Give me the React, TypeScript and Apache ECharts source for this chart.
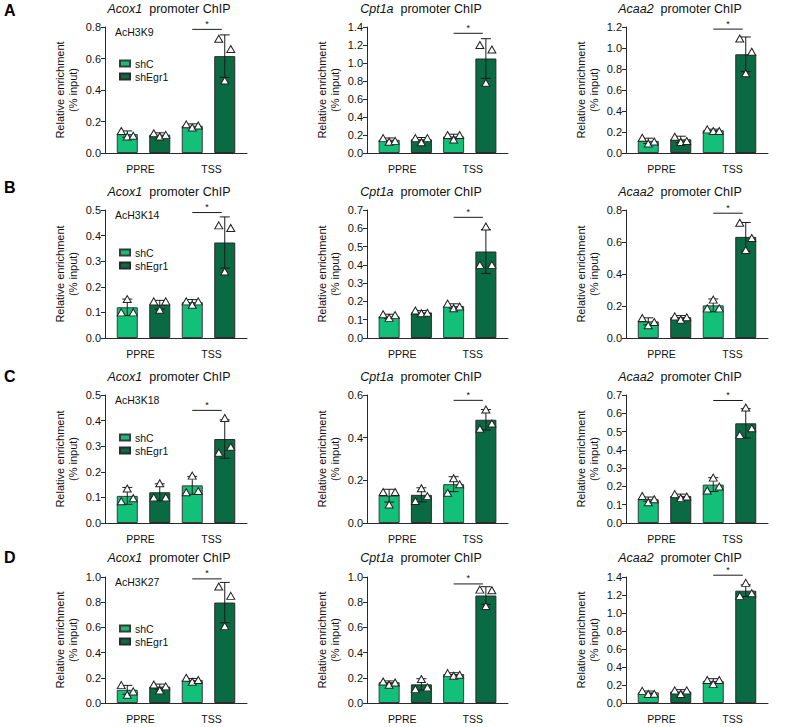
import React, { useEffect, useRef } from "react";
import * as echarts from "echarts";

// ---------- data ----------
const panelLetters = ["A", "B", "C", "D"];
const marks = ["AcH3K9", "AcH3K14", "AcH3K18", "AcH3K27"];
const genes = ["Acox1", "Cpt1a", "Acaa2"];
const sites = ["PPRE", "TSS"];
const groups = ["shC", "shEgr1"];
const barSlots = ["PPRE-shC", "PPRE-shEgr1", "TSS-shC", "TSS-shEgr1"];

// panels are ordered row by row: A(Acox1,Cpt1a,Acaa2), B(...), C(...), D(...)
const yMax = [0.8, 1.4, 1.2, 0.5, 0.7, 0.8, 0.5, 0.6, 0.7, 1.0, 1.0, 1.4];
const yStep = [0.2, 0.2, 0.2, 0.1, 0.1, 0.2, 0.1, 0.2, 0.1, 0.2, 0.2, 0.2];

// bar means: PPRE shC, PPRE shEgr1, TSS shC, TSS shEgr1
const means = [
  [0.12, 0.116, 0.173, 0.615],
  [0.147, 0.152, 0.184, 1.05],
  [0.116, 0.13, 0.217, 0.94],
  [0.12, 0.13, 0.14, 0.373],
  [0.118, 0.14, 0.175, 0.473],
  [0.104, 0.13, 0.204, 0.632],
  [0.106, 0.12, 0.147, 0.328],
  [0.128, 0.132, 0.182, 0.484],
  [0.13, 0.148, 0.21, 0.545],
  [0.105, 0.13, 0.183, 0.797],
  [0.165, 0.148, 0.23, 0.853],
  [0.118, 0.128, 0.245, 1.248],
];

// standard deviations
const sds = [
  [0.02, 0.012, 0.012, 0.135],
  [0.02, 0.02, 0.025, 0.22],
  [0.025, 0.03, 0.01, 0.165],
  [0.032, 0.017, 0.01, 0.1],
  [0.012, 0.01, 0.012, 0.12],
  [0.022, 0.01, 0.04, 0.09],
  [0.033, 0.033, 0.035, 0.075],
  [0.03, 0.033, 0.035, 0.048],
  [0.012, 0.01, 0.038, 0.08],
  [0.035, 0.02, 0.012, 0.16],
  [0.01, 0.045, 0.01, 0.07],
  [0.015, 0.02, 0.025, 0.065],
];

// individual replicates (left, centre, right) for each bar
const points = [
  [[0.14, 0.105, 0.11], [0.125, 0.105, 0.115], [0.182, 0.162, 0.175], [0.725, 0.46, 0.66]],
  [[0.165, 0.125, 0.135], [0.165, 0.12, 0.165], [0.2, 0.15, 0.2], [1.2, 0.78, 1.15]],
  [[0.145, 0.09, 0.11], [0.155, 0.105, 0.115], [0.225, 0.21, 0.21], [1.09, 0.76, 0.965]],
  [[0.1, 0.152, 0.1], [0.143, 0.11, 0.143], [0.143, 0.13, 0.143], [0.44, 0.26, 0.43]],
  [[0.13, 0.11, 0.125], [0.15, 0.135, 0.138], [0.188, 0.163, 0.172], [0.4, 0.61, 0.4]],
  [[0.125, 0.08, 0.1], [0.135, 0.115, 0.13], [0.185, 0.24, 0.185], [0.72, 0.55, 0.625]],
  [[0.085, 0.135, 0.097], [0.1, 0.155, 0.1], [0.12, 0.185, 0.125], [0.275, 0.41, 0.298]],
  [[0.145, 0.087, 0.145], [0.103, 0.163, 0.126], [0.142, 0.21, 0.182], [0.442, 0.532, 0.466]],
  [[0.148, 0.113, 0.13], [0.158, 0.136, 0.145], [0.178, 0.248, 0.2], [0.482, 0.632, 0.518]],
  [[0.142, 0.066, 0.092], [0.147, 0.1, 0.132], [0.2, 0.168, 0.182], [0.925, 0.61, 0.85]],
  [[0.17, 0.145, 0.163], [0.11, 0.19, 0.124], [0.237, 0.216, 0.224], [0.9, 0.77, 0.895]],
  [[0.135, 0.1, 0.103], [0.14, 0.1, 0.14], [0.256, 0.21, 0.256], [1.19, 1.335, 1.22]],
];

// height of the significance bracket (TSS shC vs TSS shEgr1)
const sigY = [0.785, 1.33, 1.18, 0.49, 0.66, 0.78, 0.44, 0.575, 0.67, 0.985, 0.945, 1.42];

// ---------- layout / style ----------
const FONT = '"Liberation Sans", Arial, Helvetica, sans-serif';
const C_SHC = "#13c07a";
const C_EGR = "#0a6a43";
const C_LINE = "#2a2a2a";
const colLeft = [105, 367, 626];
const colWidth = [142, 141, 142];
const innerPad = 6;
const rowTop = [27, 210, 395, 577];
const rowHeight = [126, 128, 128, 126];
const titleX = [169, 421, 680];
const titleY = [9, 192, 377, 558];
const letterY = [10, 187, 376, 557];
const legendY = [64, 253, 438, 629];
const jitter = [-6, 0, 6];

function buildOption() {
  const grid: any[] = [];
  const xAxis: any[] = [];
  const yAxis: any[] = [];
  const series: any[] = [];
  const graphic: any[] = [];
  const legend: any[] = [];

  for (let r = 0; r < 4; r++) {
    graphic.push({
      type: "text",
      x: 4,
      y: letterY[r],
      style: {
        text: panelLetters[r],
        font: `bold 16px ${FONT}`,
        fill: "#000",
        verticalAlign: "middle",
      },
    });
    graphic.push({
      type: "text",
      x: colLeft[0] + 10,
      y: rowTop[r] + 5,
      style: {
        text: marks[r],
        font: `10.5px ${FONT}`,
        fill: "#111",
        verticalAlign: "middle",
      },
      z: 10,
    });
    legend.push({
      data: groups,
      orient: "vertical",
      left: colLeft[0] + 9,
      top: legendY[r] - 11,
      itemWidth: 10,
      itemHeight: 6,
      itemGap: 2,
      icon: "rect",
      selectedMode: false,
      textStyle: { fontSize: 10.5, fontFamily: FONT, color: "#111" },
    });

    for (let c = 0; c < 3; c++) {
      const i = r * 3 + c;
      const go = 2 * i; // outer grid (axes frame)
      const gi = 2 * i + 1; // inner grid (bar slots)
      grid.push({
        left: colLeft[c],
        top: rowTop[r],
        width: colWidth[c],
        height: rowHeight[r],
      });
      grid.push({
        left: colLeft[c] + innerPad,
        top: rowTop[r],
        width: colWidth[c] - 2 * innerPad,
        height: rowHeight[r],
      });
      graphic.push({
        type: "text",
        x: titleX[c],
        y: titleY[r],
        style: {
          text: `{i|${genes[c]}}  promoter ChIP`,
          font: `12.5px ${FONT}`,
          fill: "#111",
          align: "center",
          verticalAlign: "middle",
          rich: {
            i: { fontStyle: "italic", fontSize: 12.5, fontFamily: FONT, fill: "#111" },
          },
        },
      });
      // outer x axis: line + site labels
      xAxis.push({
        type: "category",
        gridIndex: go,
        data: sites,
        axisLine: { lineStyle: { color: C_LINE, width: 1 } },
        axisTick: { show: false },
        axisLabel: { margin: 10, fontSize: 10.5, fontFamily: FONT, color: "#111" },
      });
      // inner x axis: ticks under each bar
      xAxis.push({
        type: "category",
        gridIndex: gi,
        data: barSlots,
        axisLine: { show: false },
        axisTick: { alignWithLabel: true, length: 4, lineStyle: { color: C_LINE } },
        axisLabel: { show: false },
      });
      yAxis.push({
        type: "value",
        gridIndex: go,
        min: 0,
        max: yMax[i],
        interval: yStep[i],
        splitLine: { show: false },
        axisLine: { show: true, lineStyle: { color: C_LINE, width: 1 } },
        axisTick: { show: true, length: 4, lineStyle: { color: C_LINE } },
        axisLabel: {
          fontSize: 11,
          fontFamily: FONT,
          color: "#111",
          margin: 4,
          formatter: (v: number) => v.toFixed(1),
        },
        name: "Relative enrichment\n(% input)",
        nameLocation: "middle",
        nameRotate: 90,
        nameGap: 26,
        nameTextStyle: { fontSize: 11, fontFamily: FONT, color: "#111", lineHeight: 13 },
      });
      yAxis.push({
        type: "value",
        gridIndex: gi,
        min: 0,
        max: yMax[i],
        interval: yStep[i],
        show: false,
        splitLine: { show: false },
      });

      const m = means[i];
      series.push({
        type: "bar",
        name: groups[0],
        xAxisIndex: gi,
        yAxisIndex: gi,
        data: [m[0], "-", m[2], "-"],
        barWidth: 21,
        barGap: "-100%",
        itemStyle: { color: C_SHC, borderColor: "#3a3a3a", borderWidth: 1 },
        z: 2,
      });
      series.push({
        type: "bar",
        name: groups[1],
        xAxisIndex: gi,
        yAxisIndex: gi,
        data: ["-", m[1], "-", m[3]],
        barWidth: 21,
        barGap: "-100%",
        itemStyle: { color: C_EGR, borderColor: "#2a2a2a", borderWidth: 1 },
        z: 2,
      });
      // error bars
      series.push({
        type: "custom",
        xAxisIndex: gi,
        yAxisIndex: gi,
        clip: false,
        z: 3,
        encode: { x: 0, y: 1 },
        data: m.map((v, k) => [k, v, sds[i][k]]),
        renderItem: (params: any, api: any) => {
          const x = api.value(0);
          const mv = api.value(1);
          const sv = api.value(2);
          const top = api.coord([x, mv + sv]);
          const bot = api.coord([x, mv - sv]);
          const st = { stroke: "#1a1a1a", lineWidth: 1 };
          return {
            type: "group",
            children: [
              { type: "line", shape: { x1: top[0], y1: top[1], x2: bot[0], y2: bot[1] }, style: st },
              { type: "line", shape: { x1: top[0] - 5, y1: top[1], x2: top[0] + 5, y2: top[1] }, style: st },
              { type: "line", shape: { x1: bot[0] - 5, y1: bot[1], x2: bot[0] + 5, y2: bot[1] }, style: st },
            ],
          };
        },
      });
      // replicate points
      const pts: any[] = [];
      points[i].forEach((arr, k) => {
        arr.forEach((v, j) => {
          pts.push({ value: [k, v], symbolOffset: [jitter[j], 0] });
        });
      });
      series.push({
        type: "scatter",
        xAxisIndex: gi,
        yAxisIndex: gi,
        data: pts,
        symbol: "triangle",
        symbolSize: [8, 7],
        itemStyle: { color: "#ffffff", borderColor: "#222", borderWidth: 1, opacity: 1 },
        z: 4,
      });
      // significance bracket
      series.push({
        type: "custom",
        xAxisIndex: gi,
        yAxisIndex: gi,
        clip: false,
        z: 5,
        encode: { x: [0, 1], y: 2 },
        data: [[2, 3, sigY[i]]],
        renderItem: (params: any, api: any) => {
          const p1 = api.coord([api.value(0), api.value(2)]);
          const p2 = api.coord([api.value(1), api.value(2)]);
          return {
            type: "group",
            children: [
              {
                type: "line",
                shape: { x1: p1[0], y1: p1[1], x2: p2[0] - 3, y2: p2[1] },
                style: { stroke: "#1a1a1a", lineWidth: 1 },
              },
              {
                type: "text",
                x: (p1[0] + p2[0] - 3) / 2,
                y: p1[1] - 1,
                style: {
                  text: "*",
                  font: `9px ${FONT}`,
                  fill: "#111",
                  align: "center",
                  verticalAlign: "bottom",
                },
              },
            ],
          };
        },
      });
    }
  }

  return {
    animation: false,
    backgroundColor: "#ffffff",
    textStyle: { fontFamily: FONT },
    grid,
    xAxis,
    yAxis,
    series,
    legend,
    graphic,
  };
}

export default function App() {
  const ref = useRef<HTMLDivElement>(null);
  useEffect(() => {
    if (!ref.current) return;
    const chart = echarts.init(ref.current, null, { renderer: "svg" });
    chart.setOption(buildOption() as any);
    return () => chart.dispose();
  }, []);
  return (
    <div
      ref={ref}
      style={{ position: "fixed", left: 0, top: 0, width: 787, height: 727, background: "#fff" }}
    />
  );
}
